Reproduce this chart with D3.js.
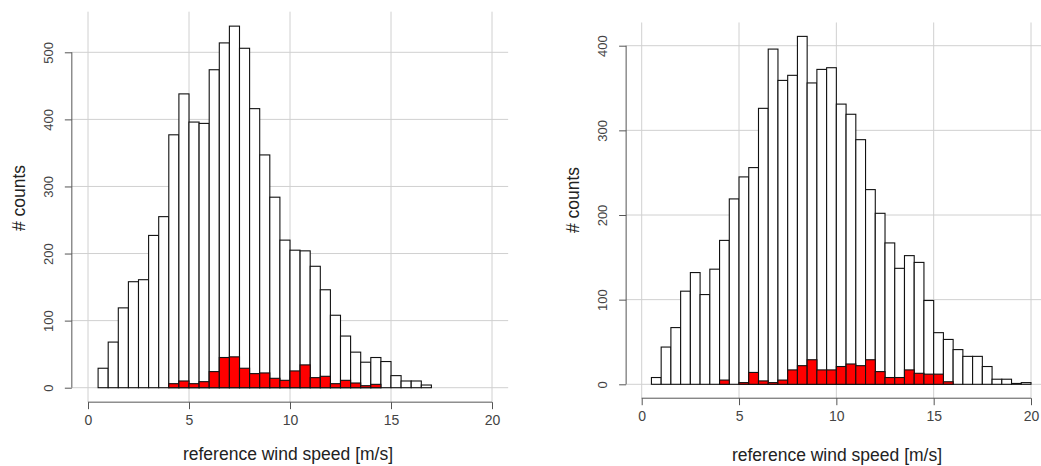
<!DOCTYPE html>
<html>
<head>
<meta charset="utf-8">
<script src="https://cdn.jsdelivr.net/npm/d3@7/dist/d3.min.js"></script>
<style>
  html, body { margin: 0; padding: 0; background: #fff; }
  svg { display: block; }
  text { font-family: "Liberation Sans", Arial, Helvetica, sans-serif; }
</style>
</head>
<body>
<svg id="chart" width="1041" height="466"></svg>
<script>
// ---- data ----
const binWidth = 0.5;
const xTicks = [0, 5, 10, 15, 20];

const leftStart = 0.5;
const leftTotal = [29,68,119,158,161,227,255,377,438,396,394,474,514,539,506,416,347,284,220,205,204,181,146,108,77,53,38,45,39,18,10,10,4];
const leftRedStart = 4.0;
const leftRed = [6,10,6,9,24,45,46,29,21,22,14,11,25,34,15,17,6,11,7,3,5];
const leftYTicks = [0, 100, 200, 300, 400, 500];

const rightStart = 0.5;
const rightTotal = [8,44,67,110,132,106,136,170,219,245,256,326,396,359,365,411,356,372,374,331,319,289,230,202,167,137,152,144,99,61,53,41,33,33,21,6,6,1,2];
const rightRedStart = 4.0;
const rightRed = [5,0,2,14,4,2,5,17,22,29,17,17,21,24,22,29,15,8,8,17,13,12,12,3];
const rightYTicks = [0, 100, 200, 300, 400];

const xTitle = "reference wind speed [m/s]";
const yTitle = "# counts";

const svg = d3.select("#chart");

function drawPanel(p) {
  const g = svg.append("g");
  const x = d3.scaleLinear().domain([0, 20]).range(p.xRange);
  const y = d3.scaleLinear().domain([0, p.yRefMax]).range(p.yRange);
  const yMax = d3.max(p.total);
  const regL = x(-0.8), regR = x(20.8);
  const regT = y(yMax * 1.04), regB = y(-yMax * 0.04);

  // grid
  g.append("g").selectAll("line.h").data(p.yTicks).join("line")
    .attr("x1", regL).attr("x2", regR)
    .attr("y1", d => y(d)).attr("y2", d => y(d))
    .attr("stroke", "#d0d0d0").attr("stroke-width", 1);
  g.append("g").selectAll("line.v").data(xTicks).join("line")
    .attr("x1", d => x(d)).attr("x2", d => x(d))
    .attr("y1", regT).attr("y2", regB)
    .attr("stroke", "#d0d0d0").attr("stroke-width", 1);

  // total bars
  const bw = x(binWidth) - x(0);
  g.append("g").selectAll("rect").data(p.total).join("rect")
    .attr("x", (d, i) => x(p.start + i * binWidth))
    .attr("y", d => y(d))
    .attr("width", bw)
    .attr("height", d => y(0) - y(d))
    .attr("fill", "#fff").attr("stroke", "#111").attr("stroke-width", 1.1);

  // red bars
  g.append("g").selectAll("rect").data(p.red.map((v, i) => ({v, i})).filter(d => d.v > 0)).join("rect")
    .attr("x", d => x(p.redStart + d.i * binWidth))
    .attr("y", d => y(d.v))
    .attr("width", bw)
    .attr("height", d => y(0) - y(d.v))
    .attr("fill", "#ff0000").attr("stroke", "#111").attr("stroke-width", 1.1);

  // x axis
  const xa = g.append("g").attr("transform", `translate(0,${regB})`)
    .call(d3.axisBottom(x).tickValues(xTicks).tickSize(7).tickSizeOuter(0).tickPadding(6));
  xa.select(".domain").attr("stroke", "#555").attr("d", `M${x(0)},0H${x(20)}`);
  xa.selectAll(".tick line").attr("stroke", "#555");
  xa.selectAll("text").attr("font-size", 14).attr("fill", "#444")
    .attr("font-family", "'Liberation Sans', Arial, sans-serif");

  // y axis
  const ya = g.append("g").attr("transform", `translate(${regL},0)`)
    .call(d3.axisLeft(y).tickValues(p.yTicks).tickSize(7).tickSizeOuter(0));
  ya.select(".domain").attr("stroke", "#555")
    .attr("d", `M0,${y(p.yTicks[0])}V${y(p.yTicks[p.yTicks.length - 1])}`);
  ya.selectAll(".tick line").attr("stroke", "#555");
  ya.selectAll("text")
    .attr("font-size", 13).attr("fill", "#444")
    .attr("font-family", "'Liberation Sans', Arial, sans-serif")
    .attr("x", null).attr("dy", null)
    .attr("text-anchor", "middle")
    .attr("transform", `translate(${p.yLabelX - regL},0) rotate(-90)`)
    .attr("dominant-baseline", "central");

  // titles
  g.append("text").attr("x", p.xTitleX).attr("y", p.xTitleY)
    .attr("text-anchor", "middle").attr("dominant-baseline", "central")
    .attr("font-size", 17.5).attr("fill", "#222").text(xTitle);
  g.append("text")
    .attr("transform", `translate(${p.yTitleX},${p.yTitleY}) rotate(-90)`)
    .attr("text-anchor", "middle").attr("dominant-baseline", "central")
    .attr("font-size", 17.5).attr("fill", "#222").text(yTitle);
}

drawPanel({
  xRange: [88, 492], yRefMax: 500, yRange: [387.7, 52.3],
  start: leftStart, total: leftTotal, redStart: leftRedStart, red: leftRed,
  yTicks: leftYTicks, yLabelX: 49,
  xTitleX: 288, xTitleY: 454, yTitleX: 19, yTitleY: 198
});

drawPanel({
  xRange: [641.7, 1031], yRefMax: 400, yRange: [384.3, 45.7],
  start: rightStart, total: rightTotal, redStart: rightRedStart, red: rightRed,
  yTicks: rightYTicks, yLabelX: 602,
  xTitleX: 837, xTitleY: 455, yTitleX: 573, yTitleY: 200
});
</script>
</body>
</html>
